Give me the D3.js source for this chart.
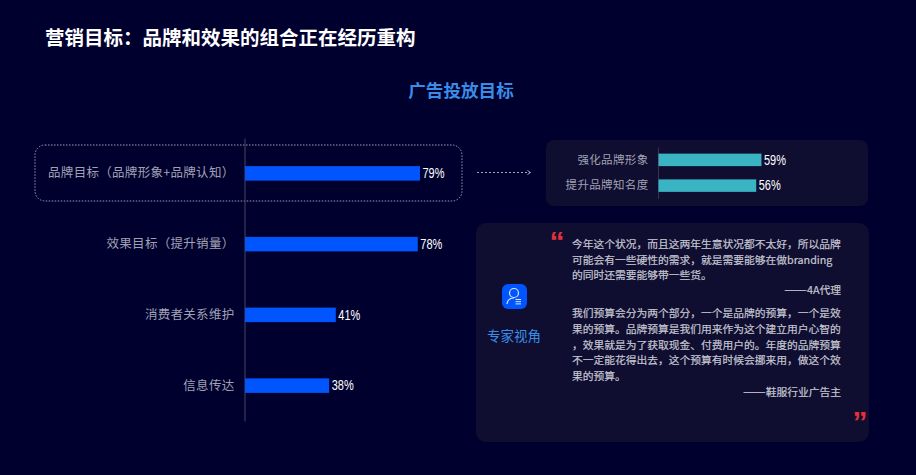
<!DOCTYPE html>
<html>
<head>
<meta charset="utf-8">
<script src="https://cdnjs.cloudflare.com/ajax/libs/d3/7.8.5/d3.min.js"></script>
<style>
html,body{margin:0;padding:0;background:#00002f;overflow:hidden}
svg{display:block}
text{font-family:"Noto Sans CJK SC","Noto Sans",sans-serif}
</style>
</head>
<body>
<svg id="chart" width="916" height="475"></svg>
<script>
// Main chart: advertising goals
const goalCategories = ["品牌目标（品牌形象+品牌认知）", "效果目标（提升销量）", "消费者关系维护", "信息传达"];
const goalValues = [79, 78, 41, 38];
// Breakdown of the brand goal
const brandCategories = ["强化品牌形象", "提升品牌知名度"];
const brandValues = [59, 56];
// Expert commentary
const quoteOne = ["今年这个状况，而且这两年生意状况都不太好，所以品牌", "可能会有一些硬性的需求，就是需要能够在做branding", "的同时还需要能够带一些货。"];
const quoteOneSource = "4A代理";
const quoteTwo = ["我们预算会分为两个部分，一个是品牌的预算，一个是效", "果的预算。品牌预算是我们用来作为这个建立用户心智的", "，效果就是为了获取现金、付费用户的。年度的品牌预算", "不一定能花得出去，这个预算有时候会挪来用，做这个效", "果的预算。"];
const quoteTwoSource = "鞋服行业广告主";

const svg = d3.select("#chart");
const muted = "#a0a2b4", quoteInk = "#c6c7d2", accent = "#3a8de6";

svg.append("text").attr("x", 45).attr("y", 45).attr("fill", "#fff")
  .attr("font-size", 19.5).attr("font-weight", 700)
  .text("营销目标：品牌和效果的组合正在经历重构");
svg.append("text").attr("x", 461).attr("y", 97).attr("text-anchor", "middle")
  .attr("fill", accent).attr("font-size", 17.6).attr("font-weight", 700)
  .text("广告投放目标");

// Panels behind the right-hand content
svg.append("rect").attr("x", 546).attr("y", 140).attr("width", 322).attr("height", 66).attr("rx", 8).attr("fill", "#0f0d30");
svg.append("rect").attr("x", 476).attr("y", 223).attr("width", 393).attr("height", 219).attr("rx", 10).attr("fill", "#0f0d30");

// Dotted outline that picks out the brand goal row
svg.append("rect").attr("x", 35).attr("y", 145).attr("width", 427).attr("height", 56).attr("rx", 10)
  .attr("fill", "none").attr("stroke", "#9a9bb0").attr("stroke-width", 1).attr("stroke-dasharray", "1.5 1.5");

// Dotted arrow towards the breakdown
svg.append("line").attr("x1", 477).attr("x2", 530).attr("y1", 172.5).attr("y2", 172.5)
  .attr("stroke", "#a4a5b8").attr("stroke-dasharray", "2 2");
svg.append("path").attr("d", "M527.5 170.5L530.5 172.5L527.5 174.5").attr("fill", "none").attr("stroke", "#a4a5b8");

function barChart({cats, vals, x0, perUnit, top, bottom, color, barH, fontSize, spacing, labelGap, axisColor, valueSize, valueWidth}) {
  const x = d3.scaleLinear().domain([0, 100]).range([x0, x0 + perUnit * 100]);
  const y = d3.scaleBand().domain(cats).range([top, bottom]);
  const g = svg.append("g");
  const axis = g.append("g").attr("transform", `translate(${x0 - 0.5},0)`)
    .call(d3.axisLeft(y).tickSize(0).tickPadding(labelGap));
  axis.select(".domain").attr("stroke", axisColor).attr("stroke-width", 1);
  axis.selectAll("text").attr("fill", muted).attr("font-size", fontSize)
    .attr("letter-spacing", spacing).style("font-family", '"Noto Sans CJK SC",sans-serif');
  g.selectAll("rect").data(vals).join("rect")
    .attr("x", x(0))
    .attr("y", (d, i) => y(cats[i]) + (y.bandwidth() - barH) / 2)
    .attr("width", d => x(d) - x(0))
    .attr("height", barH)
    .attr("fill", color);
  g.selectAll(".val").data(vals).join("text").attr("class", "val")
    .attr("x", d => x(d) + 2.5)
    .attr("y", (d, i) => y(cats[i]) + y.bandwidth() / 2 + 4.8)
    .attr("fill", "#fff").attr("font-size", valueSize)
    .attr("textLength", valueWidth).attr("lengthAdjust", "spacingAndGlyphs")
    .style("font-family", '"Liberation Sans",sans-serif')
    .text(d => d + "%");
}

barChart({cats: goalCategories, vals: goalValues, x0: 245, perUnit: 2.215, top: 138, bottom: 421,
  color: "#0055ff", barH: 14.5, fontSize: 12.5, spacing: 0.3, labelGap: 10, axisColor: "#44465f", valueSize: 14.5, valueWidth: 22});
barChart({cats: brandCategories, vals: brandValues, x0: 658.5, perUnit: 1.745, top: 147, bottom: 198.5,
  color: "#3ab3c2", barH: 12.5, fontSize: 11.5, spacing: 0.35, labelGap: 9.5, axisColor: "#33354f", valueSize: 14.5, valueWidth: 22});

// Expert badge: rounded square with a person glyph and a small stack of lines
const badge = svg.append("g").attr("transform", "translate(502,284)");
badge.append("rect").attr("width", 25).attr("height", 25).attr("rx", 6).attr("fill", "#0055ff");
badge.append("circle").attr("cx", 12).attr("cy", 9).attr("r", 4.5).attr("fill", "none").attr("stroke", "#d8e6ff").attr("stroke-width", 1.2);
badge.append("path").attr("d", "M5 20C5.5 16 8 14 12 14").attr("fill", "none").attr("stroke", "#d8e6ff").attr("stroke-width", 1.2);
badge.append("path").attr("d", "M13.5 15.5H19M13.5 17.7H19M13.5 19.9H19").attr("stroke", "#d8e6ff").attr("stroke-width", 1);
svg.append("text").attr("x", 514).attr("y", 341).attr("text-anchor", "middle").attr("fill", accent)
  .attr("font-size", 13.5).text("专家视角");

// Quote copy
function drawLines(lines, ys) {
  svg.append("g").selectAll("text").data(lines).join("text")
    .attr("x", 572).attr("y", (d, i) => ys[i]).attr("fill", quoteInk).attr("font-size", 10.75)
    .attr("stroke", quoteInk).attr("stroke-width", 0.2).text(d => d);
}
function drawSource(t, y) {
  const s = svg.append("text").attr("x", 841).attr("y", y).attr("text-anchor", "end").attr("fill", quoteInk).attr("font-size", 10.75)
    .attr("stroke", quoteInk).attr("stroke-width", 0.2);
  s.append("tspan").attr("font-size", 13.5).text("——");
  s.append("tspan").text(t);
}
drawLines(quoteOne, [248, 264, 279]);
drawSource(quoteOneSource, 294);
drawLines(quoteTwo, [317, 333, 349, 364, 380]);
drawSource(quoteTwoSource, 396);

// Red quotation marks
svg.append("text").attr("x", 549.5).attr("y", 252).attr("fill", "#e0323a").attr("font-size", 30).attr("font-weight", 700)
  .style("font-family", '"Liberation Sans",sans-serif').text("“");
svg.append("text").attr("x", 852.5).attr("y", 432).attr("fill", "#e0323a").attr("font-size", 30).attr("font-weight", 700)
  .style("font-family", '"Liberation Sans",sans-serif').text("”");
</script>
</body>
</html>
